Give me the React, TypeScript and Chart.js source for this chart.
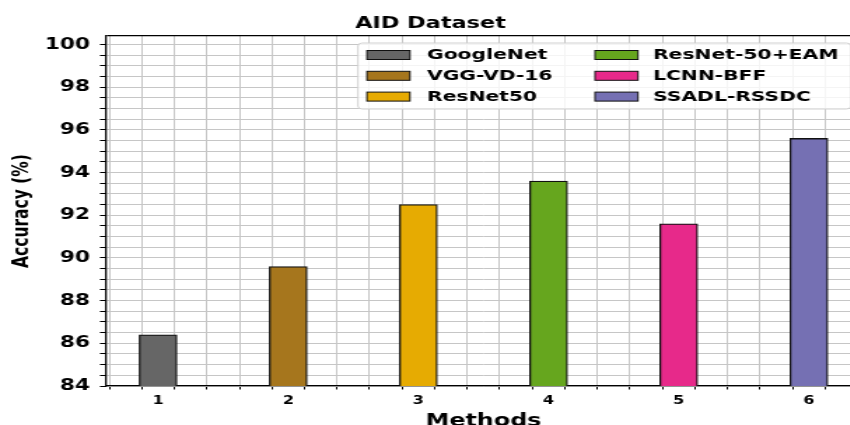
import React, { useEffect, useRef } from 'react';
import { Chart, registerables } from 'chart.js';

Chart.register(...registerables);

// ---- data ----
const methods = ['GoogleNet', 'VGG-VD-16', 'ResNet50', 'ResNet-50+EAM', 'LCNN-BFF', 'SSADL-RSSDC'];
const methodIndex = [1, 2, 3, 4, 5, 6];
const accuracy = [86.4, 89.6, 92.5, 93.6, 91.6, 95.6];
const barColors = ['#666666', '#a6761d', '#e6ab02', '#66a61e', '#e7298a', '#7570b3'];

const yMin = 84;
const yTop = 100;
const yMax = 100.4;
const yStep = 0.5;
const yLabelStep = 2;
const xMin = 0.6;
const xMax = 6.4;
const xStep = 0.25;

const chartTitle = 'AID Dataset';
const xTitle = 'Methods';
const yTitle = 'Accuracy (%)';

// ---- layout ----
const STRETCH = 1.4;
const W = 620;
const H = 425;
const FONT = "'DejaVu Sans', sans-serif";
const GRID = '#c6c6c6';

const legendPlugin = {
  id: 'boxLegend',
  afterDraw(chart: any) {
    const ctx = chart.ctx;
    const bx = 255.7, by = 43, bw = 352, bh = 66;
    ctx.save();
    ctx.beginPath();
    if ((ctx as any).roundRect) (ctx as any).roundRect(bx, by, bw, bh, 3);
    else ctx.rect(bx, by, bw, bh);
    ctx.fillStyle = 'rgba(255,255,255,0.8)';
    ctx.fill();
    ctx.strokeStyle = '#d0d0d0';
    ctx.lineWidth = 1;
    ctx.stroke();

    const cols = [{ px: 262.1, tx: 305 }, { px: 425, tx: 466.4 }];
    const rows = [55, 75.8, 96.6];
    const pw = 30.7, ph = 9;
    ctx.font = `bold 14.5px ${FONT}`;
    ctx.textBaseline = 'middle';
    ctx.textAlign = 'left';
    chart.data.datasets.forEach((ds: any, i: number) => {
      const c = cols[Math.floor(i / 3)];
      const y = rows[i % 3];
      ctx.fillStyle = ds.backgroundColor;
      ctx.fillRect(c.px, y - ph / 2, pw, ph);
      ctx.strokeStyle = '#111';
      ctx.lineWidth = 1;
      ctx.strokeRect(c.px, y - ph / 2, pw, ph);
      ctx.fillStyle = '#000';
      ctx.fillText(ds.label, c.tx, y + 0.5);
    });
    ctx.restore();
  },
};

export default function App() {
  const ref = useRef<HTMLCanvasElement | null>(null);

  useEffect(() => {
    if (!ref.current) return;
    const datasets = methods.map((m, i) => ({
      label: m,
      data: [{ x: methodIndex[i], y: accuracy[i] }],
      backgroundColor: barColors[i],
      borderColor: '#111',
      borderWidth: 1.3,
      barThickness: 27,
      grouped: false,
    }));

    const chart = new Chart(ref.current, {
      type: 'bar',
      data: { datasets },
      plugins: [legendPlugin],
      options: {
        animation: false,
        responsive: true,
        maintainAspectRatio: false,
        layout: { padding: { left: 0, right: 5, top: 0, bottom: 0 } },
        plugins: {
          legend: { display: false },
          tooltip: { enabled: false },
          title: {
            display: true,
            text: chartTitle,
            color: '#000',
            font: { family: FONT, size: 16, weight: 'bold' },
            padding: { top: 14, bottom: 2.8 },
          },
        },
        scales: {
          x: {
            type: 'linear',
            min: xMin,
            max: xMax,
            offset: false,
            afterBuildTicks: (scale: any) => {
              const t: any[] = [];
              for (let v = 0.75; v <= 6.25 + 1e-9; v += xStep) t.push({ value: +v.toFixed(2) });
              scale.ticks = t;
            },
            afterFit: (scale: any) => {
              scale.height = 39;
            },
            ticks: {
              autoSkip: false,
              maxRotation: 0,
              padding: 4.5,
              color: '#000',
              font: { family: FONT, size: 11.5, weight: 'bold' },
              callback: (v: any) => (Number.isInteger(v) ? String(v) : ''),
            },
            grid: {
              color: GRID,
              lineWidth: 1,
              tickColor: '#000',
              tickLength: 3.5,
              tickWidth: 1,
            },
            border: { color: '#000', width: 1.3 },
            title: {
              display: true,
              text: xTitle,
              color: '#000',
              font: { family: FONT, size: 17, weight: 'bold' },
              padding: { top: 0, bottom: -7 },
            },
          },
          y: {
            type: 'linear',
            min: yMin,
            max: yMax,
            afterBuildTicks: (scale: any) => {
              const t: any[] = [];
              for (let v = yMin; v <= yTop + 1e-9; v += yStep) t.push({ value: +v.toFixed(2) });
              t.push({ value: yMax });
              scale.ticks = t;
            },
            afterFit: (scale: any) => {
              scale.width = 75.7;
            },
            ticks: {
              autoSkip: false,
              padding: 7,
              color: '#000',
              font: { family: FONT, size: 15.5, weight: 'bold' },
              callback: (v: any) =>
                Number.isInteger(v) && (v - yMin) % yLabelStep === 0 && v <= yTop ? String(v) : '',
            },
            grid: {
              color: (c: any) => (c.tick && c.tick.value === yMax ? '#000' : GRID),
              lineWidth: (c: any) => (c.tick && c.tick.value === yMax ? 1.3 : 1),
              tickColor: (c: any) => (c.tick && c.tick.value === yMax ? 'rgba(0,0,0,0)' : '#000'),
              tickLength: 4.3,
              tickWidth: 1,
            },
            border: { color: '#000', width: 1.3 },
            title: {
              display: true,
              text: yTitle,
              color: '#000',
              font: { family: FONT, size: 15.5, weight: 'bold' },
              padding: { top: 6.3, bottom: 0 },
            },
          },
        },
      } as any,
    });
    return () => chart.destroy();
  }, []);

  return (
    <div
      style={{
        position: 'fixed',
        left: 0,
        top: 0,
        width: 850,
        height: 425,
        overflow: 'hidden',
        background: '#fff',
      }}
    >
      <div
        style={{
          position: 'relative',
          width: W,
          height: H,
          transform: `scaleX(${STRETCH})`,
          transformOrigin: '0 0',
        }}
      >
        <canvas ref={ref} style={{ display: 'block' }} />
      </div>
    </div>
  );
}
